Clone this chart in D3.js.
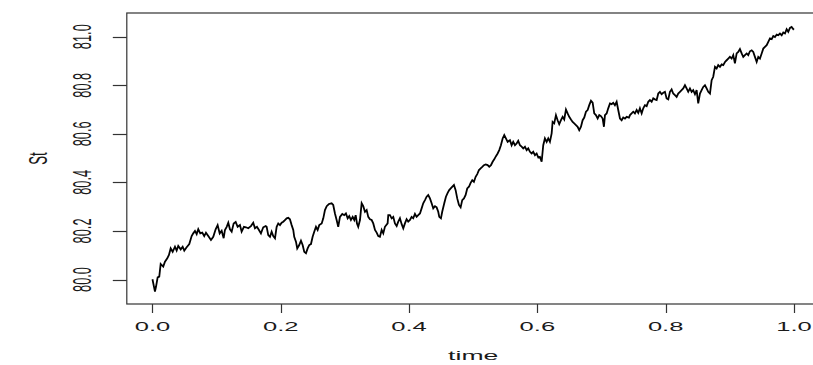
<!DOCTYPE html>
<html>
<head>
<meta charset="utf-8">
<script src="https://cdn.jsdelivr.net/npm/d3@7/dist/d3.min.js"></script>
<style>
  html, body { margin: 0; padding: 0; background: #fff; }
  svg { display: block; }
  text { font-family: "Liberation Sans", Arial, sans-serif; fill: #1a1a1a; }
</style>
</head>
<body>
<svg id="chart" width="813" height="365"></svg>
<script>
const timeVals = [
0.0000,0.0039,0.0055,0.0081,0.0106,0.0128,0.0168,0.0195,0.0231,0.0257,
0.0284,0.0315,0.0351,0.0377,0.0402,0.0440,0.0471,0.0496,0.0533,0.0574,
0.0611,0.0636,0.0663,0.0689,0.0714,0.0745,0.0776,0.0807,0.0834,0.0870,
0.0912,0.0948,0.0985,0.1016,0.1048,0.1079,0.1110,0.1130,0.1157,0.1182,
0.1208,0.1235,0.1266,0.1297,0.1328,0.1364,0.1390,0.1426,0.1458,0.1493,
0.1535,0.1571,0.1598,0.1629,0.1660,0.1691,0.1727,0.1765,0.1780,0.1805,
0.1832,0.1858,0.1883,0.1910,0.1936,0.1961,0.1988,0.2014,0.2039,0.2065,
0.2092,0.2117,0.2143,0.2170,0.2195,0.2210,0.2237,0.2257,0.2288,0.2315,
0.2341,0.2366,0.2393,0.2419,0.2444,0.2471,0.2497,0.2522,0.2549,0.2575,
0.2600,0.2638,0.2663,0.2689,0.2716,0.2751,0.2793,0.2818,0.2845,0.2871,
0.2896,0.2923,0.2959,0.2990,0.3016,0.3043,0.3068,0.3094,0.3121,0.3146,
0.3168,0.3188,0.3208,0.3235,0.3261,0.3286,0.3313,0.3339,0.3364,0.3391,
0.3417,0.3442,0.3469,0.3495,0.3520,0.3546,0.3573,0.3598,0.3624,0.3666,
0.3676,0.3702,0.3729,0.3754,0.3780,0.3807,0.3832,0.3858,0.3885,0.3910,
0.3936,0.3962,0.3987,0.4014,0.4040,0.4065,0.4092,0.4118,0.4143,0.4170,
0.4196,0.4221,0.4248,0.4274,0.4299,0.4326,0.4352,0.4377,0.4404,0.4430,
0.4455,0.4471,0.4497,0.4517,0.4549,0.4575,0.4602,0.4626,0.4664,0.4700,
0.4726,0.4751,0.4778,0.4804,0.4829,0.4856,0.4882,0.4907,0.4934,0.4960,
0.4985,0.5011,0.5038,0.5063,0.5090,0.5116,0.5141,0.5167,0.5194,0.5225,
0.5250,0.5277,0.5303,0.5328,0.5355,0.5381,0.5406,0.5432,0.5459,0.5484,
0.5510,0.5537,0.5573,0.5599,0.5624,0.5651,0.5677,0.5702,0.5729,0.5755,
0.5780,0.5807,0.5833,0.5858,0.5885,0.5911,0.5936,0.5963,0.5989,0.6014,
0.6040,0.6067,0.6092,0.6118,0.6145,0.6170,0.6196,0.6223,0.6238,0.6263,
0.6290,0.6316,0.6341,0.6368,0.6394,0.6419,0.6446,0.6472,0.6497,0.6524,
0.6550,0.6575,0.6602,0.6628,0.6653,0.6680,0.6706,0.6731,0.6758,0.6784,
0.6809,0.6836,0.6862,0.6887,0.6913,0.6940,0.6965,0.6991,0.7018,0.7038,
0.7054,0.7080,0.7105,0.7132,0.7158,0.7183,0.7209,0.7236,0.7261,0.7288,
0.7314,0.7339,0.7366,0.7392,0.7428,0.7444,0.7470,0.7495,0.7521,0.7548,
0.7573,0.7599,0.7626,0.7651,0.7677,0.7704,0.7729,0.7755,0.7782,0.7807,
0.7833,0.7860,0.7885,0.7911,0.7937,0.7963,0.7989,0.8015,0.8041,0.8067,
0.8093,0.8118,0.8145,0.8171,0.8196,0.8223,0.8249,0.8274,0.8301,0.8327,
0.8352,0.8379,0.8405,0.8430,0.8457,0.8483,0.8508,0.8535,0.8561,0.8586,
0.8613,0.8639,0.8664,0.8691,0.8717,0.8742,0.8769,0.8795,0.8820,0.8847,
0.8873,0.8898,0.8925,0.8951,0.8976,0.9002,0.9029,0.9054,0.9080,0.9107,
0.9132,0.9158,0.9185,0.9210,0.9236,0.9263,0.9288,0.9314,0.9341,0.9366,
0.9392,0.9419,0.9444,0.9470,0.9497,0.9522,0.9548,0.9575,0.9600,0.9626,
0.9653,0.9678,0.9704,0.9731,0.9756,0.9782,0.9809,0.9834,0.9860,0.9886,
0.9912,0.9938,0.9964,0.9989,1.0000
];
const stVals = [
80.001,79.950,79.970,80.009,80.012,80.064,80.053,80.073,80.087,80.101,
80.128,80.114,80.135,80.119,80.138,80.124,80.135,80.119,80.133,80.146,
80.179,80.190,80.200,80.187,80.207,80.190,80.193,80.179,80.193,80.179,
80.163,80.176,80.207,80.224,80.190,80.201,80.170,80.204,80.217,80.234,
80.207,80.197,80.231,80.237,80.217,80.224,80.197,80.217,80.215,80.211,
80.220,80.234,80.211,80.217,80.204,80.190,80.215,80.220,80.217,80.183,
80.176,80.197,80.179,80.170,80.217,80.231,80.224,80.234,80.238,80.245,
80.252,80.254,80.248,80.224,80.204,80.176,80.156,80.128,80.142,80.160,
80.142,80.114,80.108,80.128,80.142,80.146,80.176,80.197,80.217,80.204,
80.224,80.231,80.252,80.286,80.302,80.311,80.314,80.307,80.272,80.245,
80.217,80.258,80.270,80.265,80.272,80.252,80.261,80.245,80.258,80.245,
80.265,80.231,80.217,80.245,80.314,80.302,80.279,80.286,80.258,80.248,
80.245,80.231,80.204,80.193,80.179,80.176,80.204,80.190,80.217,80.231,
80.265,80.265,80.252,80.258,80.231,80.220,80.238,80.252,80.228,80.211,
80.231,80.248,80.238,80.245,80.258,80.252,80.270,80.258,80.265,80.272,
80.293,80.314,80.327,80.341,80.348,80.334,80.314,80.293,80.302,80.297,
80.279,80.258,80.252,80.279,80.314,80.341,80.357,80.368,80.379,80.389,
80.368,80.334,80.307,80.297,80.327,80.334,80.348,80.375,80.382,80.398,
80.409,80.402,80.423,80.434,80.451,80.458,80.464,80.471,80.474,80.471,
80.464,80.471,80.485,80.495,80.508,80.519,80.533,80.553,80.581,80.595,
80.581,80.567,80.574,80.553,80.567,80.553,80.560,80.571,80.553,80.547,
80.540,80.547,80.533,80.540,80.526,80.519,80.526,80.512,80.519,80.503,
80.505,80.485,80.553,80.581,80.567,80.581,80.567,80.602,80.649,80.643,
80.677,80.656,80.640,80.656,80.670,80.659,80.700,80.684,80.670,80.659,
80.649,80.643,80.636,80.629,80.615,80.629,80.656,80.667,80.691,80.698,
80.718,80.736,80.728,80.684,80.677,80.663,80.677,80.673,80.663,80.629,
80.677,80.684,80.705,80.725,80.722,80.728,80.718,80.732,80.698,80.663,
80.656,80.667,80.663,80.670,80.667,80.677,80.684,80.691,80.684,80.698,
80.686,80.705,80.684,80.705,80.718,80.714,80.732,80.739,80.732,80.746,
80.742,80.739,80.766,80.773,80.763,80.769,80.773,80.746,80.742,80.773,
80.783,80.766,80.759,80.752,80.766,80.773,80.780,80.787,80.800,80.787,
80.773,80.787,80.773,80.780,80.763,80.780,80.725,80.766,80.780,80.793,
80.800,80.787,80.773,80.766,80.821,80.835,80.876,80.869,80.883,80.876,
80.886,80.883,80.896,80.903,80.910,80.917,80.910,80.924,80.890,80.931,
80.937,80.949,80.931,80.917,80.924,80.931,80.924,80.940,80.944,80.937,
80.917,80.896,80.917,80.910,80.931,80.951,80.958,80.965,80.979,80.993,
80.990,81.003,80.999,81.009,81.006,81.013,81.006,81.017,81.013,81.031,
81.020,81.036,81.040,81.031,81.034
];
const xTicks = [0, 0.2, 0.4, 0.6, 0.8, 1.0];
const xTickLabels = ["0.0", "0.2", "0.4", "0.6", "0.8", "1.0"];
const yTicks = [80.0, 80.2, 80.4, 80.6, 80.8, 81.0];
const yTickLabels = ["80.0", "80.2", "80.4", "80.6", "80.8", "81.0"];
const xTitle = "time";
const yTitle = "St";

const W = 813, H = 365;
const plotLeft = 126.8, plotRight = 819.6, plotTop = 13, plotBottom = 304;
const SX = 2.0;      // horizontal stretch of text (as in the reference)
const FS = 12.8;

const svg = d3.select("#chart");
svg.append("rect").attr("width", W).attr("height", H).attr("fill", "#fff");

const x = d3.scaleLinear().domain([-0.04, 1.04]).range([plotLeft, plotRight]);
const y = d3.scaleLinear().domain([79.8991, 81.0976]).range([plotBottom, plotTop]);

const data = timeVals.map((t, i) => ({ t, v: stVals[i] }));

// line
svg.append("path")
  .datum(data)
  .attr("fill", "none")
  .attr("stroke", "#000")
  .attr("stroke-width", 1.8)
  .attr("stroke-linejoin", "miter")
  .attr("d", d3.line().x(d => x(d.t)).y(d => y(d.v)));

// box
svg.append("rect")
  .attr("x", x.range()[0]).attr("y", y.range()[1])
  .attr("width", x.range()[1] - x.range()[0])
  .attr("height", y.range()[0] - y.range()[1])
  .attr("fill", "none").attr("stroke", "#333").attr("stroke-width", 1.2);

// x ticks
const gx = svg.append("g");
xTicks.forEach((tv, i) => {
  const px = Math.round(x(tv)) + 0.5;
  gx.append("line").attr("x1", px).attr("x2", px)
    .attr("y1", plotBottom).attr("y2", plotBottom + 9)
    .attr("stroke", "#333").attr("stroke-width", 1.2);
  gx.append("text")
    .attr("transform", `translate(${x(tv)},${plotBottom + 23}) scale(${SX},1)`)
    .attr("text-anchor", "middle").attr("dominant-baseline", "central")
    .attr("font-size", FS).text(xTickLabels[i]);
});

// y ticks
const gy = svg.append("g");
yTicks.forEach((tv, i) => {
  const py = Math.round(y(tv)) + 0.5;
  gy.append("line").attr("x1", plotLeft - 14).attr("x2", plotLeft)
    .attr("y1", py).attr("y2", py)
    .attr("stroke", "#333").attr("stroke-width", 1.2);
  gy.append("text")
    .attr("transform", `translate(${plotLeft - 45},${y(tv)}) scale(${SX},1) rotate(-90)`)
    .attr("text-anchor", "middle").attr("dominant-baseline", "central")
    .attr("font-size", FS).text(yTickLabels[i]);
});

// titles
svg.append("text")
  .attr("transform", `translate(${(plotLeft + plotRight) / 2},${plotBottom + 51}) scale(${SX},1)`)
  .attr("text-anchor", "middle").attr("dominant-baseline", "central")
  .attr("font-size", FS + 0.5).text(xTitle);

svg.append("text")
  .attr("transform", `translate(38,${(plotTop + plotBottom) / 2}) scale(${SX},1) rotate(-90)`)
  .attr("text-anchor", "middle").attr("dominant-baseline", "central")
  .attr("font-size", FS + 0.5).text(yTitle);
</script>
</body>
</html>
